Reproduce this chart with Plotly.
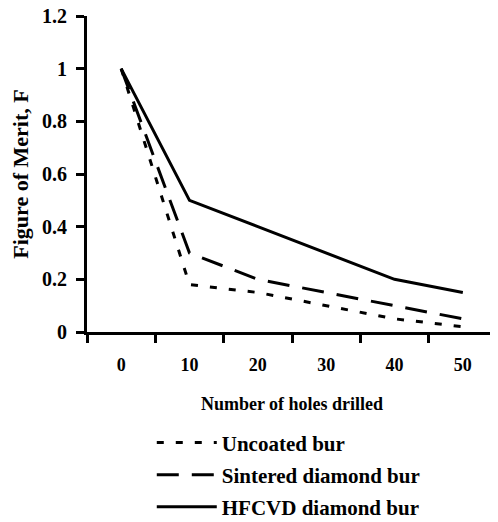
import plotly.graph_objects as go

holes = ["0", "10", "20", "30", "40", "50"]
uncoated = [1.0, 0.18, 0.15, 0.10, 0.05, 0.02]
sintered = [1.0, 0.30, 0.20, 0.15, 0.10, 0.05]
hfcvd = [1.0, 0.50, 0.40, 0.30, 0.20, 0.15]

FONT = "Liberation Serif"

fig = go.Figure()
fig.add_trace(go.Scatter(x=holes, y=uncoated, mode="lines", name="<b>Uncoated bur</b>",
                         legend="legend",
                         line=dict(color="black", width=3, dash="7px,12px")))
fig.add_trace(go.Scatter(x=holes, y=sintered, mode="lines", name="<b>Sintered diamond bur</b>",
                         legend="legend2",
                         line=dict(color="black", width=3, dash="22px,13px")))
fig.add_trace(go.Scatter(x=holes, y=hfcvd, mode="lines", name="<b>HFCVD diamond bur</b>",
                         legend="legend3",
                         line=dict(color="black", width=3)))

leg = dict(x=0.158, xanchor="left", yanchor="middle",
           font=dict(family=FONT, size=21, color="black"),
           itemwidth=60, bgcolor="rgba(0,0,0,0)")

# page body has an 8px default margin, so the figure is 8px smaller
fig.update_layout(
    width=490, height=514,
    margin=dict(l=79, r=1, t=8, b=190, autoexpand=False),
    paper_bgcolor="white", plot_bgcolor="white",
    font=dict(family=FONT, color="black"),
    showlegend=True,
    legend=dict(leg, y=-0.351),
    legend2=dict(leg, y=-0.4525),
    legend3=dict(leg, y=-0.554),
    xaxis=dict(type="category", range=[-0.5, 5.5], tickson="boundaries",
               automargin=False,
               showline=True, linecolor="black", linewidth=3,
               ticks="outside", ticklen=8, tickwidth=3, tickcolor="black",
               showgrid=False, zeroline=False, ticklabelstandoff=14,
               tickfont=dict(family=FONT, size=18, color="black"),
               tickprefix="<b>", ticksuffix="</b>",
               title=dict(text="<b>Number of holes drilled</b>", standoff=24,
                          font=dict(family=FONT, size=18, color="black"))),
    yaxis=dict(range=[0, 1.2], dtick=0.2, tickformat="~g",
               automargin=False, ticklabeloverflow="allow",
               showline=True, linecolor="black", linewidth=3,
               ticks="outside", ticklen=8, tickwidth=3, tickcolor="black",
               showgrid=False, zeroline=False, ticklabelstandoff=5,
               tickfont=dict(family=FONT, size=20, color="black"),
               tickprefix="<b>", ticksuffix="</b>",
               title=dict(text="<b>Figure of Merit, F</b>", standoff=8,
                          font=dict(family=FONT, size=22, color="black"))),
)

fig.write_html("out.html")
